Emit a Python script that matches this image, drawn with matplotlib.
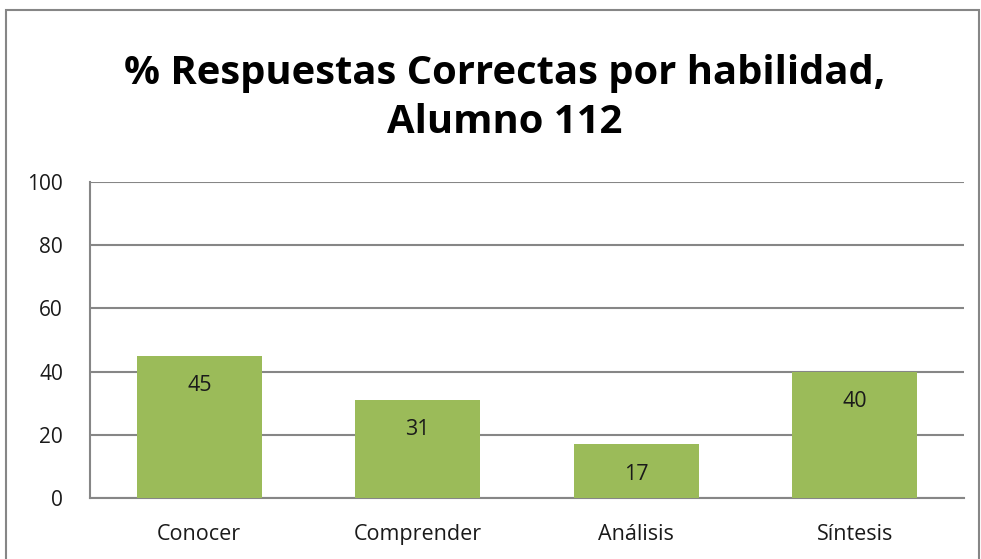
import matplotlib.pyplot as plt
from matplotlib.patches import Rectangle

habilidades = ["Conocer", "Comprender", "Análisis", "Síntesis"]
porcentajes = [45, 31, 17, 40]
yticks = [0, 20, 40, 60, 80, 100]

plt.rcParams['font.family'] = ['Open Sans', 'DejaVu Sans']

fig = plt.figure(figsize=(9.81, 5.59), dpi=100)
ax = fig.add_axes([90/981, 1 - 498/559, (964-90)/981, (498-182)/559])

x = range(len(habilidades))
ax.bar(x, porcentajes, width=0.57, color="#9BBB59", zorder=3)
for xi, v in zip(x, porcentajes):
    ax.annotate(str(v), (xi, v), xytext=(0, -21.5), textcoords="offset points",
                ha="center", va="center", fontsize=15.5, color="#1a1a1a", zorder=4)

ax.set_xlim(-0.5, len(habilidades) - 0.5)
ax.set_ylim(0, 100)
ax.set_yticks(yticks)
ax.set_xticks(list(x))
ax.set_xticklabels(habilidades, fontsize=15.5)
ax.yaxis.grid(True, color="#868686", linewidth=1.5, zorder=0)
ax.tick_params(axis="both", length=0, colors="#1a1a1a")
ax.tick_params(axis="y", pad=19.5, labelsize=15)
ax.tick_params(axis="x", pad=19)
for s in ["top", "right"]:
    ax.spines[s].set_visible(False)
for s in ["left", "bottom"]:
    ax.spines[s].set_color("#868686")
    ax.spines[s].set_linewidth(1.5)

fig.text(505/981, 1 - 98/559, "% Respuestas Correctas por habilidad,\nAlumno 112",
         ha="center", va="center", fontsize=28.8, fontweight="bold", linespacing=1.36)

fig.patches.append(Rectangle((6/981, -0.05), 973/981, 1.05 - 10/559,
                             transform=fig.transFigure, fill=False,
                             edgecolor="#868686", linewidth=1.5, clip_on=False))

fig.savefig("out.png", dpi=100)
